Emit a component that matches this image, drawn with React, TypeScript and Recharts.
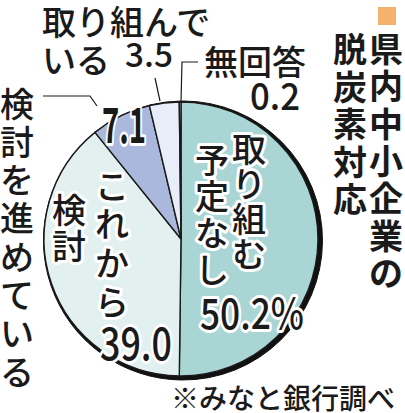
import { PieChart, Pie, Cell } from 'recharts';

const categories = ['取り組む予定なし', 'これから検討', '検討を進めている', '取り組んでいる', '無回答'];
const shares = [50.2, 39.0, 7.1, 3.5, 0.2];
const sliceColors = ['#a9d5d5', '#e2f1ef', '#aab8de', '#e8eef9', '#f4f7fb'];
const titleLines = ['県内中小企業の', '脱炭素対応'];
const sourceNote = '※みなと銀行調べ';

const W = 405;
const H = 413;
const CX = 181;
const CY = 239;
const R = 137;

const jp = '"Noto Sans CJK JP", "Noto Sans", sans-serif';
const ink = '#1a1a1a';

const data = categories.map((name, i) => ({ name, value: shares[i] }));

// vertical text, one glyph per <text>
function VText({ text, x, y, step, size = 34, weight = 500, halo = false }: any) {
    return (
        <g>
            {Array.from(text as string).map((ch, i) => (
                <text
                    key={i}
                    x={x}
                    y={y + i * step}
                    textAnchor="middle"
                    dominantBaseline="central"
                    fontSize={size}
                    fontWeight={weight}
                    fontFamily={jp}
                    fill={ink}
                    stroke={halo ? '#fff' : 'none'}
                    strokeWidth={halo ? 6 : 0}
                    strokeLinejoin="round"
                    paintOrder="stroke"
                >
                    {ch}
                </text>
            ))}
        </g>
    );
}

function Num({ text, x, y, width, size = 44, weight = 500, halo = false }: any) {
    return (
        <text
            x={x}
            y={y}
            textLength={width}
            lengthAdjust="spacingAndGlyphs"
            fontSize={size}
            fontWeight={weight}
            fontFamily={jp}
            fill={ink}
            stroke={halo ? '#fff' : 'none'}
            strokeWidth={halo ? 6 : 0}
            strokeLinejoin="round"
            paintOrder="stroke"
        >
            {text}
        </text>
    );
}

function HText({ text, x, y, size = 34 }: any) {
    return (
        <text x={x} y={y} dominantBaseline="central" fontSize={size} fontWeight={500} fontFamily={jp} fill={ink}>
            {text}
        </text>
    );
}

export default function App() {
    const label = (i: number) => shares[i].toFixed(1);
    return (
        <div style={{ position: 'absolute', left: 0, top: 0, width: W, height: H, background: '#fff' }}>
            <PieChart width={W} height={H} margin={{ top: 0, right: 0, bottom: 0, left: 0 }}>
                {/* dark offset disc gives the heavy rim on the lower right */}
                <Pie
                    data={data}
                    dataKey="value"
                    cx={CX + 2}
                    cy={CY + 1.5}
                    outerRadius={R + 2.5}
                    startAngle={90}
                    endAngle={-270}
                    fill="#111"
                    stroke="#111"
                    isAnimationActive={false}
                />
                <Pie
                    data={data}
                    dataKey="value"
                    cx={CX}
                    cy={CY}
                    outerRadius={R}
                    startAngle={90}
                    endAngle={-270}
                    stroke="#1a1a1a"
                    strokeWidth={1.4}
                    isAnimationActive={false}
                >
                    {data.map((d, i) => (
                        <Cell key={d.name} fill={sliceColors[i]} />
                    ))}
                </Pie>
            </PieChart>
            <svg width={W} height={H} style={{ position: 'absolute', left: 0, top: 0 }}>
                {/* title */}
                <rect x={378} y={7} width={18} height={18} fill="#f4b26e" />
                <VText text={titleLines[0]} x={386} y={47.5} step={37.3} weight={700} />
                <VText text={titleLines[1]} x={350} y={47.5} step={37.5} weight={700} />

                {/* leader lines */}
                <polyline points="43,96 90,96 97,106" fill="none" stroke={ink} strokeWidth={1.2} />
                <polyline points="160,101 155,78" fill="none" stroke={ink} strokeWidth={1.2} />
                <polyline points="181,101 182,62 198,62" fill="none" stroke={ink} strokeWidth={1.2} />

                {/* outside labels */}
                <HText text="取り組んで" x={42} y={20} />
                <HText text="いる" x={42} y={58} />
                <Num text={label(3)} x={125} y={67} width={48} size={33} />
                <HText text={categories[4]} x={204} y={60} />
                <Num text={label(4)} x={250} y={110} width={50} size={37} />
                <VText text={categories[2]} x={17} y={102} step={38.3} />

                {/* inside labels */}
                <Num text={label(2)} x={102} y={143} width={44} size={49} weight={700} halo />
                <VText text="これから" x={112} y={184} step={38.7} halo />
                <VText text="検討" x={69} y={208} step={36} halo />
                <Num text={label(1)} x={100} y={360} width={72} size={44} halo />
                <VText text="取り組む" x={249} y={147} step={35} halo />
                <VText text="予定なし" x={212} y={158} step={36.7} halo />
                <Num text={`${label(0)}%`} x={200} y={329} width={104} size={42} halo />

                <HText text={sourceNote} x={171} y={397} size={28} />
            </svg>
        </div>
    );
}
